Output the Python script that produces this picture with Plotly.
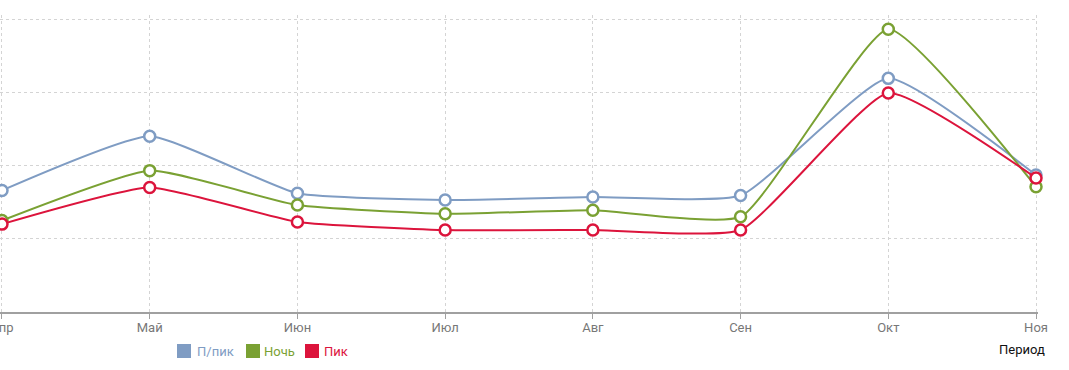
import plotly.graph_objects as go

months = ["Апр", "Май", "Июн", "Июл", "Авг", "Сен", "Окт", "Ноя"]
offpeak = [1.66, 2.40, 1.62, 1.53, 1.57, 1.59, 3.19, 1.87]
night = [1.25, 1.93, 1.46, 1.34, 1.39, 1.30, 3.86, 1.71]
peak = [1.20, 1.70, 1.23, 1.12, 1.12, 1.12, 2.99, 1.83]
series_names = ["П/пик", "Ночь", "Пик"]
colors = ["#7f9cc3", "#7aa133", "#dc143c"]
y_ticks = [0, 1, 2, 3, 4]

W, H = 1069, 370
ML, MR, MT, MB = 0, 31, 15, 58
PW, PH = W - ML - MR, H - MT - MB
X_PAD = 0.0135
Y_MAX = 4.055


def fx(px):
    return (px - ML) / PW


def fy(py):
    return 1 - (py - MT) / PH


fig = go.Figure()
for name, vals, col in zip(series_names, [offpeak, night, peak], colors):
    fig.add_trace(go.Scatter(
        x=months, y=vals, mode="lines+markers", name=name, showlegend=False,
        line=dict(color=col, width=2, shape="spline", smoothing=0.45),
        marker=dict(size=11, color="white", line=dict(color=col, width=2.5)),
        cliponaxis=False,
    ))

shapes = []
# hide the grid stubs above the top gridline
shapes.append(dict(type="rect", xref="paper", yref="y", layer="between",
                   x0=0, x1=1, y0=max(y_ticks) + 0.02, y1=Y_MAX,
                   fillcolor="white", line=dict(width=0)))

# legend (squares + coloured labels)
legend_sq_x = [177, 246, 305]
legend_tx_x = [195, 262, 322]
annotations = []
for name, col, sx, tx in zip(series_names, colors, legend_sq_x, legend_tx_x):
    shapes.append(dict(type="rect", xref="paper", yref="paper",
                       x0=fx(sx), x1=fx(sx + 14), y0=fy(358), y1=fy(344),
                       fillcolor=col, line=dict(width=0)))
    annotations.append(dict(text=name, xref="paper", yref="paper",
                            x=fx(tx), y=fy(351), xanchor="left", yanchor="middle",
                            showarrow=False, font=dict(size=13, color=col)))
annotations.append(dict(
    text="Период", xref="paper", yref="paper", x=fx(1047), y=fy(349),
    xanchor="right", yanchor="middle", showarrow=False,
    font=dict(size=13, color="#111111"),
))

fig.update_layout(
    width=W, height=H,
    margin=dict(l=ML, r=MR, t=MT, b=MB, autoexpand=False),
    plot_bgcolor="white", paper_bgcolor="white",
    font=dict(family="Roboto", size=13, color="#777777"),
    showlegend=False,
    xaxis=dict(
        type="category", range=[-X_PAD, len(months) - 1 + X_PAD],
        showgrid=True, gridcolor="#d4d4d4", griddash="3px,3px", gridwidth=1,
        showline=True, linecolor="#a0a0a0", linewidth=2,
        ticks="outside", ticklen=5, tickcolor="#a0a0a0",
        ticklabelstandoff=-3,
        tickfont=dict(size=13, color="#777777"), zeroline=False, automargin=False,
    ),
    yaxis=dict(
        range=[0, Y_MAX], tickvals=y_ticks, showticklabels=False,
        showgrid=True, gridcolor="#d4d4d4", griddash="3px,3px", gridwidth=1,
        zeroline=False, showline=False, automargin=False,
    ),
    shapes=shapes,
    annotations=annotations,
)

fig.write_html(
    "out.html",
    config={"displayModeBar": False},
    post_script="document.body.style.margin='0px';document.body.style.overflow='hidden';",
)
